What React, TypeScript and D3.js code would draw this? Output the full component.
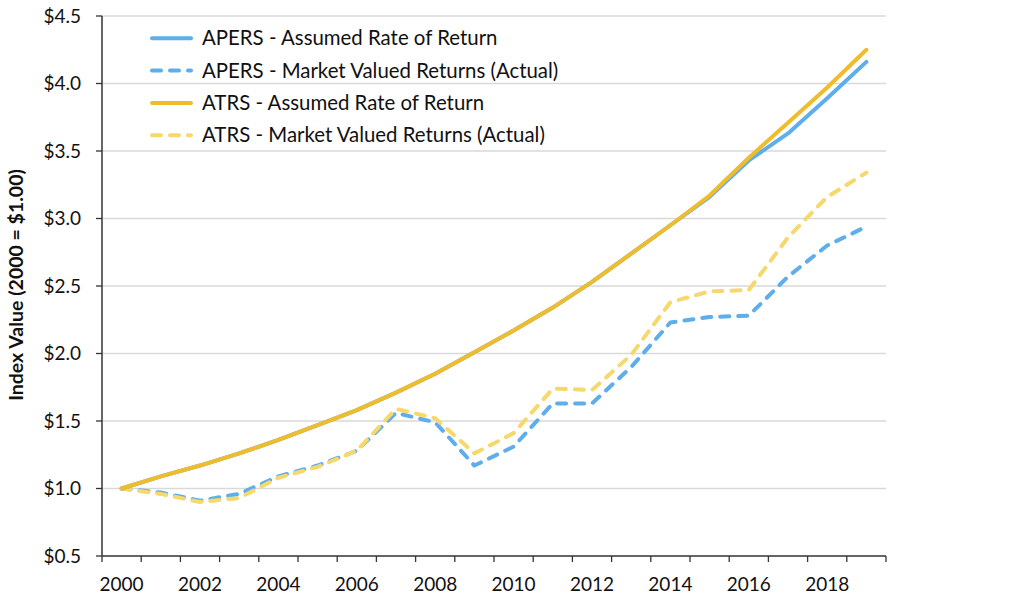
import React from "react";
import * as d3 from "d3";

const years = d3.range(2000, 2020).map(String);
const yearLabels = ["2000", "2002", "2004", "2006", "2008", "2010", "2012", "2014", "2016", "2018"];
const yTicks = [0.5, 1.0, 1.5, 2.0, 2.5, 3.0, 3.5, 4.0, 4.5];

const apersAssumed = [1.0, 1.09, 1.17, 1.26, 1.36, 1.47, 1.58, 1.71, 1.85, 2.01, 2.17, 2.34, 2.53, 2.74, 2.95, 3.16, 3.43, 3.63, 3.89, 4.16];
const apersActual = [1.0, 0.97, 0.91, 0.96, 1.09, 1.17, 1.28, 1.56, 1.49, 1.17, 1.31, 1.63, 1.63, 1.9, 2.23, 2.27, 2.28, 2.57, 2.8, 2.94];
const atrsAssumed = [1.0, 1.09, 1.17, 1.26, 1.36, 1.47, 1.58, 1.71, 1.85, 2.01, 2.17, 2.34, 2.53, 2.74, 2.95, 3.17, 3.45, 3.71, 3.97, 4.25];
const atrsActual = [1.0, 0.96, 0.9, 0.93, 1.08, 1.16, 1.28, 1.59, 1.52, 1.26, 1.41, 1.74, 1.73, 1.99, 2.38, 2.46, 2.47, 2.86, 3.16, 3.34];

const seriesNames = [
  "APERS - Assumed Rate of Return",
  "APERS - Market Valued Returns (Actual)",
  "ATRS - Assumed Rate of Return",
  "ATRS - Market Valued Returns (Actual)",
];

const BLUE = "#5DAEEA";
const GOLD = "#EFBD2C";
const LIGHTGOLD = "#F6D86C";

const series = [
  { name: seriesNames[1], values: apersActual, color: BLUE, dashed: true },
  { name: seriesNames[3], values: atrsActual, color: LIGHTGOLD, dashed: true },
  { name: seriesNames[0], values: apersAssumed, color: BLUE, dashed: false },
  { name: seriesNames[2], values: atrsAssumed, color: GOLD, dashed: false },
];
const legendItems = [
  { name: seriesNames[0], color: BLUE, dashed: false },
  { name: seriesNames[1], color: BLUE, dashed: true },
  { name: seriesNames[2], color: GOLD, dashed: false },
  { name: seriesNames[3], color: LIGHTGOLD, dashed: true },
];

const W = 1024;
const H = 606;
const left = 102;
const right = 886;
const top = 16;
const bottom = 556;
const FONT = "Lato, 'Open Sans', sans-serif";

export default function App() {
  const x = d3.scaleBand<string>().domain(years).range([left, right]);
  const y = d3.scaleLinear().domain([0.5, 4.5]).range([bottom, top]);
  const cx = (i: number) => (x(years[i]) as number) + x.bandwidth() / 2;
  const line = d3
    .line<number>()
    .x((_, i) => cx(i))
    .y((d) => y(d))
    .curve(d3.curveLinear);

  const tickXs = years.map((yr) => x(yr) as number).concat([right]);

  return (
    <svg width={W} height={H} style={{ position: "absolute", left: 0, top: 0, background: "#fff" }}>
      {yTicks.slice(1).map((t) => (
        <line key={t} x1={left} x2={right} y1={y(t)} y2={y(t)} stroke="#D9D9D9" strokeWidth={1.3} />
      ))}
      {yTicks.map((t) => (
        <g key={"yt" + t}>
          <line x1={left - 6} x2={left} y1={y(t)} y2={y(t)} stroke="#333" strokeWidth={1.3} />
          <text x={81} y={y(t)} dy="0.35em" textAnchor="end" fontFamily={FONT} fontSize={19} fill="#111">
            {"$" + t.toFixed(1)}
          </text>
        </g>
      ))}
      {tickXs.map((tx, i) => (
        <line key={"xt" + i} x1={tx} x2={tx} y1={bottom} y2={bottom + 6} stroke="#333" strokeWidth={1.3} />
      ))}
      {years.map((yr, i) =>
        yearLabels.includes(yr) ? (
          <text key={"xl" + yr} x={cx(i)} y={591} textAnchor="middle" fontFamily={FONT} fontSize={19} fill="#111">
            {yr}
          </text>
        ) : null
      )}
      <line x1={left} x2={left} y1={top} y2={bottom} stroke="#333" strokeWidth={1.5} />
      <line x1={left} x2={right} y1={bottom} y2={bottom} stroke="#333" strokeWidth={1.5} />
      <text
        transform={`translate(23,${285}) rotate(-90)`}
        textAnchor="middle"
        fontFamily={FONT}
        fontWeight="bold"
        fontSize={19.5}
        fill="#111"
      >
        Index Value (2000 = $1.00)
      </text>
      {series.map((s) => (
        <path
          key={s.name}
          d={line(s.values) as string}
          fill="none"
          stroke={s.color}
          strokeWidth={4}
          strokeLinecap="round"
          strokeLinejoin="round"
          strokeDasharray={s.dashed ? "9 9" : undefined}
        />
      ))}
      {legendItems.map((it, i) => {
        const ly = 38.3 + i * 32.3;
        return (
          <g key={"lg" + i}>
            <line
              x1={152}
              x2={191}
              y1={ly}
              y2={ly}
              stroke={it.color}
              strokeWidth={4}
              strokeLinecap="round"
              strokeDasharray={it.dashed ? "9 9" : undefined}
            />
            <text x={202} y={ly} dy="0.35em" fontFamily={FONT} fontSize={20.4} fill="#111">
              {it.name}
            </text>
          </g>
        );
      })}
    </svg>
  );
}
